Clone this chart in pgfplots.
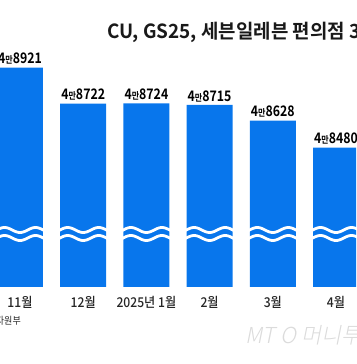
\documentclass[border=0pt]{standalone}
\usepackage{fontspec}
\usepackage{pgfplots}
\pgfplotsset{compat=1.18}
\newfontfamily\krtitle[FakeStretch=0.97]{Noto Sans CJK KR Bold}
\newfontfamily\krlab[FakeStretch=0.85]{Noto Sans CJK KR Bold}
\newfontfamily\krtick[FakeStretch=0.9]{Noto Sans CJK KR Medium}
\newfontfamily\krsrc[FakeStretch=0.9]{Noto Sans CJK KR}
\newfontfamily\krwm[FakeSlant=0.2]{Noto Sans CJK KR Light}
\definecolor{barblue}{RGB}{8,118,236}
\begin{document}
\begin{tikzpicture}
\path[use as bounding box] (0pt,0pt) rectangle (356pt,364pt);
\begin{axis}[
  at={(0pt,77pt)}, anchor=south west,
  scale only axis, width=356pt, height=287pt,
  xmin=-0.316, xmax=5.316, ymin=47712, ymax=49293,
  clip mode=individual,
  axis x line*=bottom, axis y line=none,
  x axis line style={draw=none},
  xtick={0,1,2,3,4,5},
  xticklabels={11월,12월,2025년 1월,2월,3월,4월},
  xtick style={draw=none},
  xticklabel style={font=\krtick\fontsize{13.5}{14}\selectfont, text=black!85, yshift=-1pt},
  extra x ticks={0.5,1.5,2.5,3.5,4.5},
  extra x tick labels={},
  extra x tick style={major tick length=4pt, tick style={draw=gray!70, line width=0.6pt}},
  ybar, bar width=46pt,
  point meta=explicit symbolic,
  nodes near coords={4{\fontsize{9.5}{10}\selectfont 만}\pgfplotspointmeta},
  every node near coord/.append style={font=\krlab\fontsize{14.5}{15}\selectfont, text=black, inner sep=1pt, yshift=2pt},
]
\addplot[fill=barblue, draw=none] coordinates {
  (0,48921) [8921]
  (1,48722) [8722]
  (2,48724) [8724]
  (3,48715) [8715]
  (4,48628) [8628]
  (5,48480) [8480]
};
\end{axis}
\foreach \i in {0,...,5} {
  \pgfmathsetmacro\xc{20+63.2*\i}
  \draw[white, line width=2.8pt] plot[domain=-26:26, samples=60, smooth] ({(\xc+\x)*1pt},{(134-2.5*cos(360*\x/31))*1pt});
  \draw[white, line width=2.8pt] plot[domain=-26:26, samples=60, smooth] ({(\xc+\x)*1pt},{(126-2.5*cos(360*\x/31))*1pt});
}
\node[anchor=west, inner sep=0pt, font=\krtitle\fontsize{19.5}{20}\selectfont, text=black!90] at (107pt,332pt) {CU, GS25, 세븐일레븐 편의점 3사 점포 수};
\node[anchor=east, inner sep=0pt, font=\krsrc\fontsize{10}{10}\selectfont, text=black!85] at (21pt,43pt) {자료: 산업통상자원부};
\node[anchor=west, inner sep=0pt, font=\krwm\fontsize{22}{22}\selectfont, text=gray!28] at (245pt,29pt) {MT O 머니투데이};
\end{tikzpicture}
\end{document}
